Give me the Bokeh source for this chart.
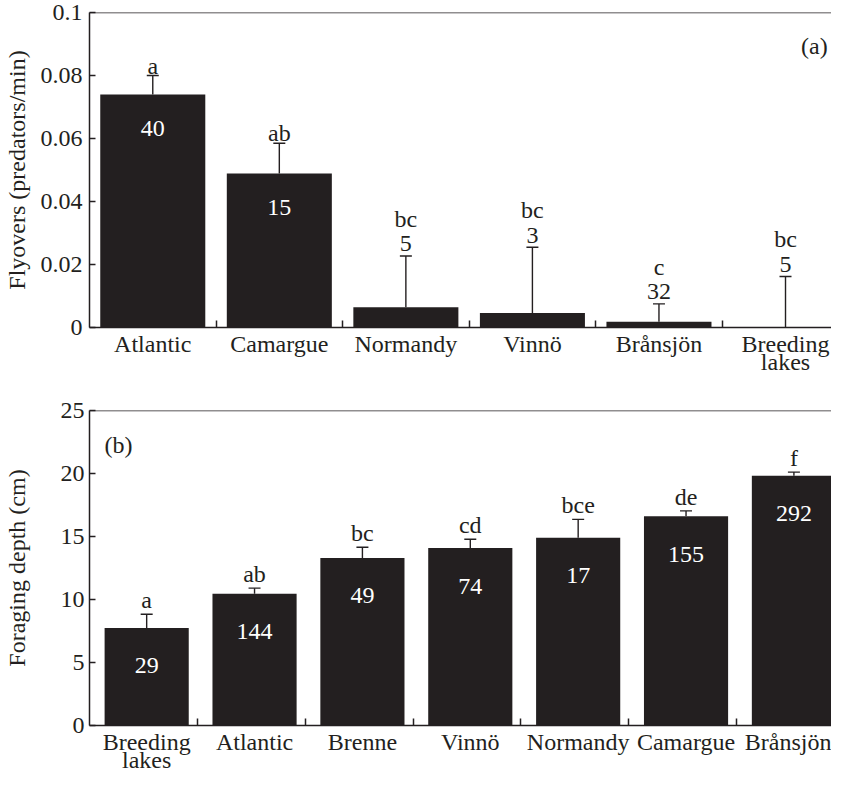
from bokeh.plotting import figure
from bokeh.layouts import column
from bokeh.models import (ColumnDataSource, FixedTicker, Whisker, TeeHead, Span, Range1d)
from bokeh.core.properties import value
from bokeh.embed import file_html
from bokeh.resources import INLINE

# ---------------- data ----------------
top_sites = ["Atlantic", "Camargue", "Normandy", "Vinnö", "Brånsjön", "Breeding lakes"]
top_mean = [0.0740, 0.0489, 0.0064, 0.0046, 0.0018, 0.0]
top_se = [0.0060, 0.0096, 0.0163, 0.0209, 0.0057, 0.0162]
top_n = [40, 15, 5, 3, 32, 5]
top_letters = ["a", "ab", "bc", "bc", "c", "bc"]
top_yticks = [0, 0.02, 0.04, 0.06, 0.08, 0.1]
top_ytick_labels = ["0", "0.02", "0.04", "0.06", "0.08", "0.1"]

bot_sites = ["Breeding lakes", "Atlantic", "Brenne", "Vinnö", "Normandy", "Camargue", "Brånsjön"]
bot_mean = [7.74, 10.46, 13.30, 14.08, 14.91, 16.61, 19.82]
bot_se = [1.09, 0.44, 0.85, 0.70, 1.45, 0.42, 0.29]
bot_n = [29, 144, 49, 74, 17, 155, 292]
bot_letters = ["a", "ab", "bc", "cd", "bce", "de", "f"]
bot_yticks = [0, 5, 10, 15, 20, 25]
bot_ytick_labels = ["0", "5", "10", "15", "20", "25"]

# ---------------- style ----------------
INK = "#231f20"
FONT = "Liberation Serif"
FS = "24px"
W = 831
LEFT = 84


def style_axes(p, xt_centers, xt_labels, boundaries, yticks, ylabels, ylab, ystandoff, ylab_standoff):
    p.outline_line_color = None
    p.grid.visible = False
    p.background_fill_color = "white"
    p.border_fill_color = "white"
    xa = p.xaxis[0]
    xa.ticker = FixedTicker(ticks=xt_centers, minor_ticks=boundaries)
    xa.major_label_overrides = {c: l.replace(" ", "\n") for c, l in zip(xt_centers, xt_labels)}
    xa.major_tick_in = 0
    xa.major_tick_out = 0
    xa.minor_tick_in = 7
    xa.minor_tick_out = 0
    xa.minor_tick_line_color = INK
    xa.minor_tick_line_width = 1.5
    xa.axis_line_color = INK
    xa.axis_line_width = 1.5
    xa.major_label_text_font = FONT
    xa.major_label_text_font_size = FS
    xa.major_label_text_color = INK
    xa.major_label_text_line_height = 0.7
    xa.major_label_standoff = 3
    ya = p.yaxis[0]
    ya.ticker = FixedTicker(ticks=yticks, minor_ticks=[])
    ya.major_label_overrides = {t: l for t, l in zip(yticks, ylabels)}
    ya.major_tick_in = 6
    ya.major_tick_out = 0
    ya.major_tick_line_color = INK
    ya.major_tick_line_width = 1.5
    ya.axis_line_color = INK
    ya.axis_line_width = 1.5
    ya.major_label_text_font = FONT
    ya.major_label_text_font_size = FS
    ya.major_label_text_color = INK
    ya.major_label_standoff = ystandoff
    ya.axis_label = ylab
    ya.axis_label_text_font = FONT
    ya.axis_label_text_font_size = FS
    ya.axis_label_text_font_style = "normal"
    ya.axis_label_text_color = INK
    ya.axis_label_standoff = ylab_standoff
    p.add_layout(Span(location=yticks[-1], dimension="width", line_color=INK, line_width=1.5))


def draw_bars(p, xs, means, ses, ns, letters, width, inside_thr, lbl_off_in, n_off_in, n_off_out, let_off_above_n):
    ups = [m + s for m, s in zip(means, ses)]
    src = ColumnDataSource(dict(x=xs, mean=means, up=ups))
    p.vbar(x="x", top="mean", bottom=0, width=width, source=src, fill_color=INK, line_color=None)
    wh = Whisker(source=src, base="x", upper="up", lower="mean", line_color=INK, line_width=1.4,
                 upper_head=TeeHead(size=12, line_color=INK, line_width=1.4), lower_head=None)
    p.add_layout(wh)
    in_x, in_y, in_t = [], [], []
    let_x, let_y, let_t, let_off = [], [], [], []
    out_x, out_y, out_t = [], [], []
    for x, m, u, n, l in zip(xs, means, ups, ns, letters):
        if m > inside_thr:
            in_x.append(x); in_y.append(m); in_t.append(str(n))
            let_x.append(x); let_y.append(u); let_t.append(l); let_off.append(lbl_off_in)
        else:
            out_x.append(x); out_y.append(u); out_t.append(str(n))
            let_x.append(x); let_y.append(u); let_t.append(l); let_off.append(let_off_above_n)
    common = dict(text_font=value(FONT), text_font_size=FS, text_align="center", text_baseline="alphabetic")
    if in_x:
        p.text(x=in_x, y=in_y, text=in_t, text_color="white", y_offset=n_off_in, **common)
    if out_x:
        p.text(x=out_x, y=out_y, text=out_t, text_color=INK, y_offset=n_off_out, **common)
    src_l = ColumnDataSource(dict(x=let_x, y=let_y, t=let_t, off=let_off))
    p.text(x="x", y="y", text="t", y_offset="off", source=src_l, text_color=INK, **common)


# ---------------- top panel ----------------
top_unit = 127.4
top_end = (W - LEFT) / top_unit
p1 = figure(width=W, height=379, output_backend="svg", toolbar_location=None,
            x_range=Range1d(0, top_end), y_range=Range1d(0, top_yticks[-1]),
            min_border_left=LEFT, min_border_right=0, min_border_top=12, min_border_bottom=52)
top_x = [i + 0.5 for i in range(len(top_sites))]
top_bounds = [i for i in range(1, len(top_sites))]
style_axes(p1, top_x, top_sites, top_bounds, top_yticks, top_ytick_labels,
           "Flyovers (predators/min)", 7, 8)
draw_bars(p1, top_x, top_mean, top_se, top_n, top_letters, 0.83, 0.03,
          -10, 34, -12, -37)
p1.text(x=[top_end - 0.03], y=[0.0895], text=["(a)"], text_color=INK, text_font=value(FONT),
        text_font_size=FS, text_align="right", text_baseline="alphabetic")

# ---------------- bottom panel ----------------
bot_unit = 108.6
bot_end = (W - LEFT) / bot_unit
p2 = figure(width=W, height=396, output_backend="svg", toolbar_location=None,
            x_range=Range1d(0, bot_end), y_range=Range1d(0, bot_yticks[-1]),
            min_border_left=LEFT, min_border_right=0, min_border_top=31, min_border_bottom=50)
bot_x = [i + 0.53 for i in range(len(bot_sites))]
bot_bounds = [i for i in range(1, len(bot_sites))]
style_axes(p2, bot_x, bot_sites, bot_bounds, bot_yticks, bot_ytick_labels,
           "Foraging depth (cm)", 5, 28)
draw_bars(p2, bot_x, bot_mean, bot_se, bot_n, bot_letters, 0.78, 1.0,
          -14, 38, -12, -37)
p2.text(x=[0.14], y=[22.3], text=["(b)"], text_color=INK, text_font=value(FONT),
        text_font_size=FS, text_align="left", text_baseline="alphabetic")

layout = column(p1, p2, spacing=0)
open("out.html", "w").write(file_html(layout, INLINE))
